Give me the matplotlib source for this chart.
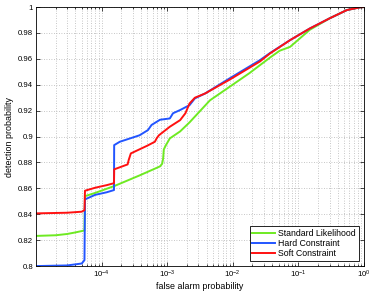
import numpy as np
import matplotlib
matplotlib.use('Agg')
import matplotlib.pyplot as plt
from matplotlib.ticker import FixedLocator, LogLocator, NullFormatter

plt.rcParams['font.family'] = ['Liberation Sans', 'DejaVu Sans']
plt.rcParams['mathtext.fontset'] = 'custom'
plt.rcParams['mathtext.rm'] = 'Liberation Sans'

# %% data
pfa_std = [1e-5, 2e-5, 3e-5, 4e-5, 5.5e-5, 5.6e-5, 8e-5, 1.6e-4, 3.8e-4, 7.8e-4,
           8.4e-4, 8.7e-4, 8.9e-4, 9.5e-4, 1.1e-3, 1.58e-3, 2.2e-3, 4.5e-3, 9e-3,
           1.8e-2, 3.7e-2, 5.2e-2, 7.5e-2, 0.15, 0.3, 0.55, 0.87, 1.0]
pd_std = [0.8233, 0.8238, 0.8248, 0.826, 0.8275, 0.854, 0.8565, 0.862, 0.870, 0.877,
          0.879, 0.883, 0.890, 0.893, 0.8986, 0.904, 0.911, 0.928, 0.9385,
          0.949, 0.961, 0.9663, 0.9693, 0.9825, 0.9913, 0.9977, 0.9998, 1.0]

pfa_hard = [1e-5, 3e-5, 5e-5, 5.5e-5, 5.6e-5, 8e-5, 1.2e-4, 1.55e-4, 1.56e-4, 1.9e-4,
            3.8e-4, 5.1e-4, 5.8e-4, 7.8e-4, 1.1e-3, 1.23e-3, 1.58e-3, 2.2e-3, 2.65e-3,
            3.8e-3, 9e-3, 2.6e-2, 3.7e-2, 7.5e-2, 0.15, 0.3, 0.55, 0.87, 1.0]
pd_hard = [0.800, 0.8005, 0.802, 0.8046, 0.8515, 0.855, 0.857, 0.8587, 0.8934, 0.896,
           0.901, 0.905, 0.909, 0.913, 0.914, 0.918, 0.9205, 0.9243, 0.9295,
           0.9333, 0.945, 0.959, 0.9645, 0.9745, 0.9835, 0.9913, 0.9977, 0.9998, 1.0]

pfa_soft = [1e-5, 3e-5, 5e-5, 5.5e-5, 5.6e-5, 8e-5, 1.2e-4, 1.55e-4, 1.56e-4, 2.5e-4,
            2.6e-4, 2.8e-4, 5e-4, 6.5e-4, 7e-4, 7.5e-4, 1.1e-3, 1.58e-3, 1.9e-3, 2.2e-3,
            2.65e-3, 3.8e-3, 9e-3, 2.6e-2, 3.7e-2, 7.5e-2, 0.15, 0.3, 0.55, 0.87, 1.0]
pd_soft = [0.8407, 0.8412, 0.842, 0.8432, 0.8582, 0.8605, 0.8625, 0.864, 0.8747, 0.8785,
           0.882, 0.887, 0.893, 0.896, 0.899, 0.901, 0.9076, 0.9127, 0.918, 0.9256,
           0.930, 0.9333, 0.9440, 0.958, 0.9642, 0.9745, 0.9835, 0.9913, 0.9977, 0.9998, 1.0]

labels = ['Standard Likelihood', 'Hard Constraint', 'Soft Constraint']
colors = ['#6eea22', '#2255ff', '#ff1111']

yticks = [0.8, 0.82, 0.84, 0.86, 0.88, 0.9, 0.92, 0.94, 0.96, 0.98, 1.0]
xticks = [1e-4, 1e-3, 1e-2, 1e-1, 1.0]

# %% plot
fig = plt.figure(figsize=(3.74, 2.95), dpi=100)
ax = fig.add_axes([0.096, 0.098, 0.877, 0.878])

ax.plot(pfa_std, pd_std, color=colors[0], lw=1.4, label=labels[0])
ax.plot(pfa_hard, pd_hard, color=colors[1], lw=1.4, label=labels[1])
ax.plot(pfa_soft, pd_soft, color=colors[2], lw=1.4, label=labels[2])

ax.set_xscale('log')
ax.set_xlim(1e-5, 1)
ax.set_ylim(0.8, 1)
ax.xaxis.set_major_locator(FixedLocator(xticks))
ax.xaxis.set_minor_locator(LogLocator(base=10, subs=np.arange(2, 10)))
ax.xaxis.set_minor_formatter(NullFormatter())
ax.set_yticks(yticks)
ax.set_yticklabels(['%g' % v for v in yticks])

# =============================================================================
# grid / ticks like matlab
# =============================================================================
ax.grid(which='major', color='#b4b4b4', ls=(0, (1, 2)), lw=0.6)
ax.grid(which='minor', axis='x', color='#b4b4b4', ls=(0, (1, 2)), lw=0.6)
ax.tick_params(which='both', direction='in', top=True, right=True, labelsize=5.6,
               width=0.5, pad=2)
ax.tick_params(which='major', length=3)
ax.tick_params(which='minor', length=1.5)
for s in ax.spines.values():
    s.set_linewidth(0.6)

ax.set_xlabel('false alarm probability', fontsize=6.4, labelpad=1)
ax.set_ylabel('detection probability', fontsize=6.4, labelpad=3)

leg = ax.legend(loc='lower right', fontsize=6.3, frameon=True, fancybox=False,
                edgecolor='k', framealpha=1, borderpad=0.3, labelspacing=0.15,
                handlelength=2.6, handletextpad=0.4, borderaxespad=0.6)
leg.get_frame().set_linewidth(0.6)

plt.savefig('out.png', dpi=100)
